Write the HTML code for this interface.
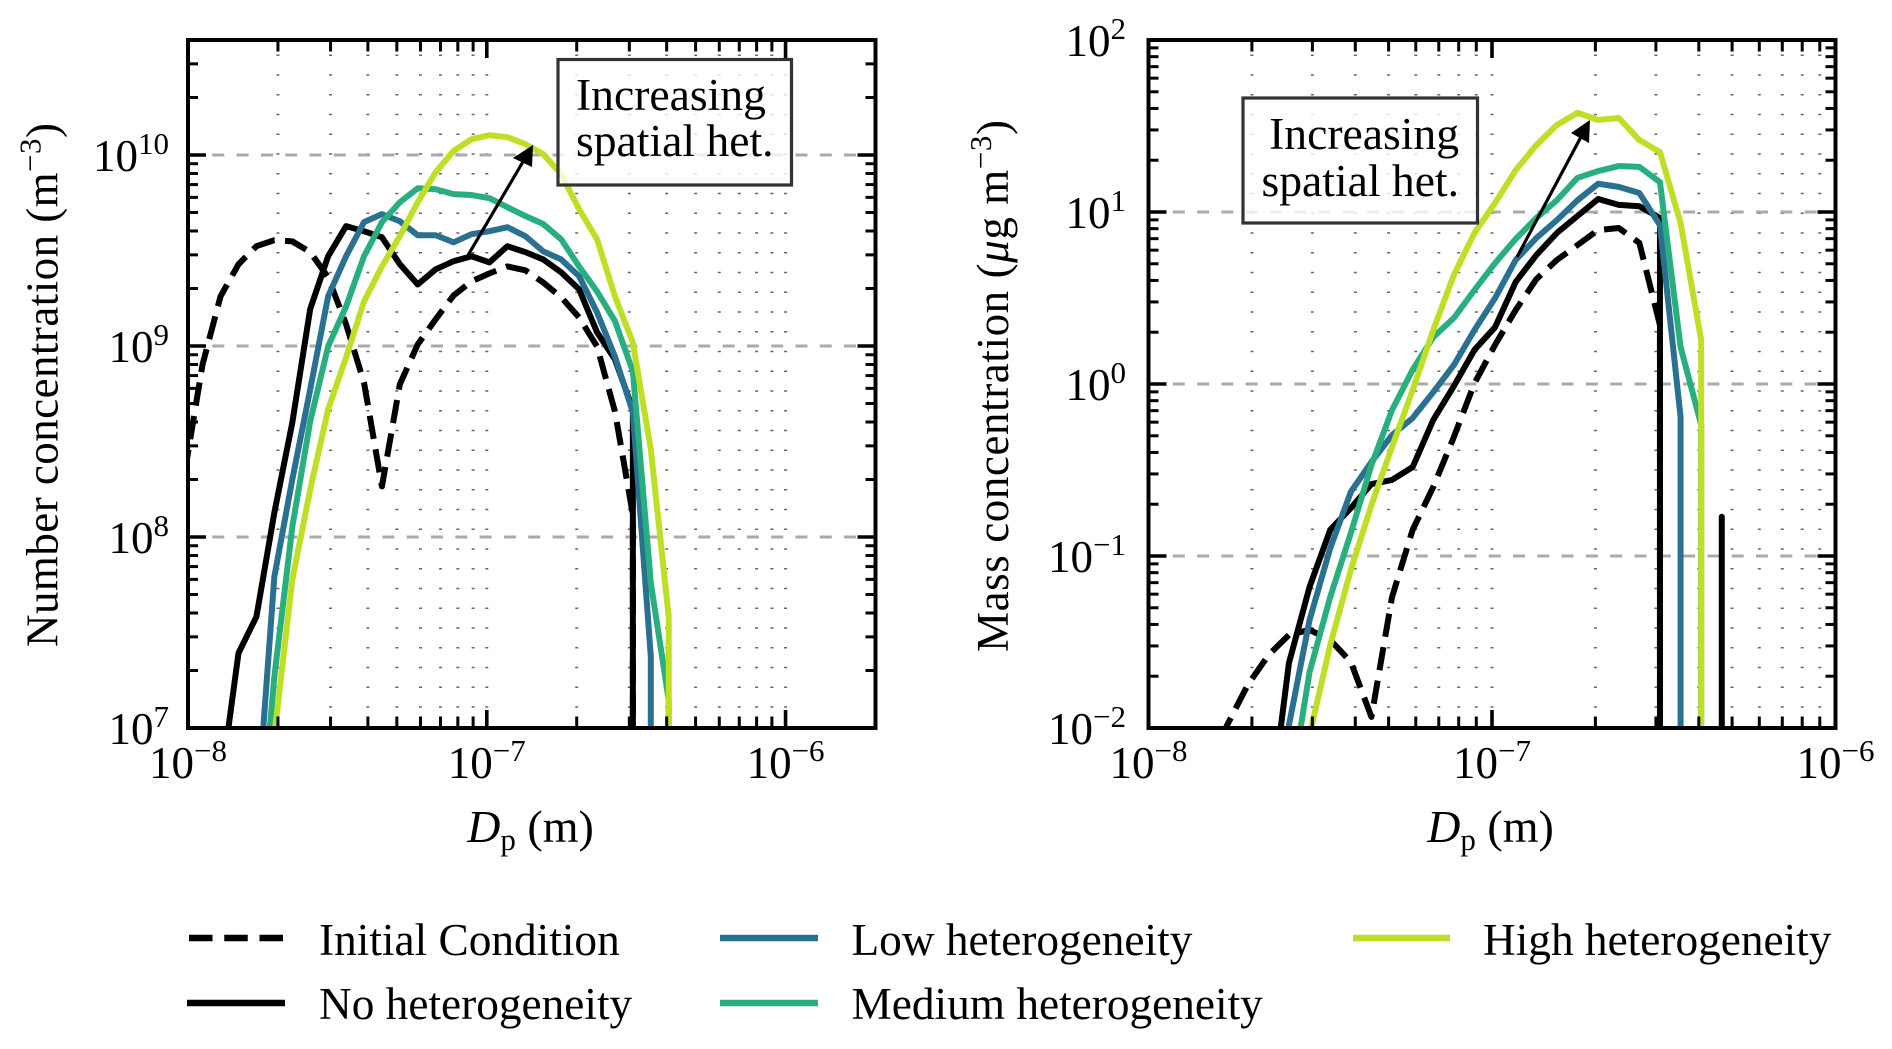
<!DOCTYPE html>
<html lang="en">
<head>
<meta charset="utf-8">
<title>Number and mass concentration size distributions</title>
<style>
  html, body { margin: 0; padding: 0; background: #fff; overflow: hidden; width: 1892px; height: 1049px; }
  svg { display: block; }
  text { font-family: "Liberation Serif", "DejaVu Serif", serif; fill: #000; }
</style>
</head>
<body>
<svg id="figure" xmlns="http://www.w3.org/2000/svg" width="1892" height="1049" viewBox="0 0 1892 1049">
  <rect x="0" y="0" width="1892" height="1049" fill="#fff"/>
  <g id="panel-number"></g>
  <g id="panel-mass"></g>

  <text x="530.5" y="842" font-size="46" text-anchor="middle"><tspan font-style="italic">D</tspan><tspan font-size="31" dy="8">p</tspan><tspan dy="-8"> (m)</tspan></text>
  <text x="1490.5" y="842" font-size="46" text-anchor="middle"><tspan font-style="italic">D</tspan><tspan font-size="31" dy="8">p</tspan><tspan dy="-8"> (m)</tspan></text>

  <text transform="translate(57.5 385) rotate(-90)" font-size="45" text-anchor="middle" textLength="524" lengthAdjust="spacing">Number concentration (m<tspan font-size="31" dy="-17">−3</tspan><tspan dy="17">)</tspan></text>
  <text transform="translate(1008 386) rotate(-90)" font-size="45" text-anchor="middle" textLength="532" lengthAdjust="spacing">Mass concentration (<tspan font-style="italic">μ</tspan>g m<tspan font-size="31" dy="-17">−3</tspan><tspan dy="17">)</tspan></text>

  <g>
    <line x1="189" y1="938" x2="283" y2="938" stroke="#000" stroke-width="6.5" stroke-dasharray="23.5 11.75"/>
    <text x="319" y="955" font-size="45.3">Initial Condition</text>
    <line x1="187" y1="1003" x2="285" y2="1003" stroke="#000" stroke-width="6.5"/>
    <text x="319" y="1019" font-size="45.3">No heterogeneity</text>
    <line x1="720" y1="938" x2="818" y2="938" stroke="#2a7090" stroke-width="6.5"/>
    <text x="851.5" y="955" font-size="45.3">Low heterogeneity</text>
    <line x1="720" y1="1003" x2="818" y2="1003" stroke="#29af7f" stroke-width="6.5"/>
    <text x="851.5" y="1019" font-size="45.3">Medium heterogeneity</text>
    <line x1="1353" y1="938" x2="1450" y2="938" stroke="#bddf26" stroke-width="6.5"/>
    <text x="1483" y="955" font-size="45.3">High heterogeneity</text>
  </g>
</svg>

<script>
// Particle diameter bins (nm)
const diameterNm = [9.75, 11.19, 12.85, 14.76, 16.94, 19.45, 22.34, 25.64, 29.44, 33.81, 38.82, 44.57, 51.17, 58.75, 67.45, 77.45, 88.92, 102.1, 117.2, 134.6, 154.5, 177.4, 203.7, 233.9, 268.5, 308.3, 354, 406.4, 466.6, 535.8];

// Number concentration (m^-3) per diameter bin; 0 means an empty bin
const numberInitial = [2.17e8, 8.02e8, 1.82e9, 2.68e9, 3.33e9, 3.58e9, 3.53e9, 3.10e9, 2.29e9, 1.30e9, 6.44e8, 1.84e8, 6.30e8, 1.02e9, 1.38e9, 1.84e9, 2.18e9, 2.40e9, 2.61e9, 2.49e9, 2.15e9, 1.80e9, 1.41e9, 9.95e8, 4.54e8, 1.31e8, 0, 0, 0, 0];
const numberNoHet = [0, 0, 4.97e6, 2.47e7, 3.82e7, 1.34e8, 3.97e8, 1.56e9, 2.95e9, 4.24e9, 3.99e9, 3.71e9, 2.68e9, 2.10e9, 2.52e9, 2.78e9, 2.95e9, 2.74e9, 3.33e9, 3.10e9, 2.84e9, 2.43e9, 1.98e9, 1.18e9, 8.51e8, 4.66e8, 0, 0, 0, 0];
const numberLowHet = [0, 0, 0, 0, 3.21e6, 6.19e7, 2.00e8, 5.92e8, 1.82e9, 2.95e9, 4.45e9, 4.90e9, 4.50e9, 3.80e9, 3.80e9, 3.49e9, 3.85e9, 3.99e9, 4.19e9, 3.76e9, 3.13e9, 2.84e9, 2.32e9, 1.50e9, 8.81e8, 4.49e8, 2.36e7, 0, 0, 0];
const numberMediumHet = [0, 0, 0, 0, 1.60e6, 1.85e7, 1.13e8, 4.03e8, 9.95e8, 1.61e9, 2.95e9, 4.45e9, 5.66e9, 6.70e9, 6.62e9, 6.24e9, 6.17e9, 5.94e9, 5.33e9, 4.79e9, 4.35e9, 3.62e9, 2.61e9, 1.93e9, 1.35e9, 7.36e8, 5.75e7, 1.40e7, 0, 0];
const numberHighHet = [0, 0, 0, 0, 6.85e5, 9.18e6, 5.97e7, 1.77e8, 4.66e8, 8.71e8, 1.71e9, 2.61e9, 3.76e9, 5.66e9, 8.13e9, 1.05e10, 1.21e10, 1.27e10, 1.24e10, 1.14e10, 1.01e10, 7.94e9, 5.20e9, 3.62e9, 1.82e9, 1.04e9, 2.87e8, 3.82e7, 0, 0];

// Mass concentration (ug m^-3) per diameter bin; 0 means an empty bin
const massInitial = [0, 0, 0, 5.70e-3, 0.0104, 0.0178, 0.0265, 0.0348, 0.0372, 0.0325, 0.0242, 0.0116, 0.0578, 0.142, 0.252, 0.492, 1.01, 1.69, 2.69, 4.07, 5.26, 6.43, 7.85, 8.07, 6.61, 2.20, 0, 0, 0, 0];
const massNoHet = [0, 0, 0, 0, 0, 0, 2.73e-3, 0.0239, 0.0661, 0.142, 0.190, 0.262, 0.277, 0.329, 0.618, 0.973, 1.58, 2.14, 3.92, 5.62, 7.55, 9.48, 11.9, 11.0, 10.8, 9.23, 0, 0, 0.169, 0];
const massLowHet = [0, 0, 0, 0, 0, 0, 1.71e-3, 0.0104, 0.0425, 0.111, 0.236, 0.352, 0.505, 0.634, 0.897, 1.29, 2.06, 3.16, 5.26, 7.06, 8.97, 11.7, 14.6, 14.0, 12.9, 8.39, 0.643, 0, 0, 0];
const massMediumHet = [0, 0, 0, 0, 0, 0, 0, 3.81e-3, 0.0212, 0.0578, 0.136, 0.338, 0.706, 1.21, 1.87, 2.42, 3.52, 5.05, 6.97, 9.23, 11.7, 15.8, 17.3, 18.5, 18.3, 14.9, 1.64, 0.578, 0, 0];
const massHighHet = [0, 0, 0, 0, 0, 0, 0, 2.73e-3, 9.10e-3, 0.0304, 0.0830, 0.198, 0.431, 0.923, 2.06, 4.31, 7.55, 11.3, 17.5, 24.5, 32.1, 37.7, 34.3, 35.2, 26.2, 22.3, 8.63, 1.80, 0, 0];

// Tick exponents
const xTickExponents = [-8, -7, -6];
const numberYTickExponents = [7, 8, 9, 10];
const massYTickExponents = [-2, -1, 0, 1, 2];

const SVG_NS = 'http://www.w3.org/2000/svg';

function mk(tag, parent, attrs) {
  const el = document.createElementNS(SVG_NS, tag);
  for (const k in attrs) el.setAttribute(k, attrs[k]);
  parent.appendChild(el);
  return el;
}

function expLabel(exp) {
  return String(exp).replace('-', '\u2212');
}

function drawPanel(cfg) {
  const g = document.getElementById(cfg.id);
  const L = cfg.left, R = cfg.right, T = cfg.top, B = cfg.bottom;

  // Axis functions. Diameters arrive in nm and are placed on a log10 metre axis.
  const lx0 = Math.log10(cfg.xMin), lx1 = Math.log10(cfg.xMax);
  const ly0 = Math.log10(cfg.yMin), ly1 = Math.log10(cfg.yMax);
  const xScale = function (nm) {
    return L + (Math.log10(nm * 1e-9) - lx0) / (lx1 - lx0) * (R - L);
  };
  const yScale = function (v) {
    return B - (Math.log10(v) - ly0) / (ly1 - ly0) * (B - T);
  };
  const xPos = function (logMetres) {
    return L + (logMetres - lx0) / (lx1 - lx0) * (R - L);
  };
  const yPos = function (logValue) {
    return B - (logValue - ly0) / (ly1 - ly0) * (B - T);
  };

  // Dotted vertical grid at every decade subdivision
  for (let e = Math.floor(lx0); e < Math.ceil(lx1); e++) {
    for (let m = 1; m <= 10; m++) {
      const lg = e + Math.log10(m);
      if (m === 1 || lg > lx1 - 1e-6) continue;
      const px = xPos(lg);
      if (px > R - 4 || e >= -6) continue;
      const dotLine = mk('line', g, { x1: px, y1: B - 0.5, x2: px, y2: T, stroke: '#666', 'stroke-width': 3, 'stroke-dasharray': '1.5 18.25' });
      
      
    }
  }

  // Dashed horizontal grid at the major decades
  cfg.yTicks.forEach(function (exp) {
    if (exp === ly0 || exp === ly1) return;
    const py = yPos(exp);
    const gridLine = mk('line', g, { x1: L, y1: py, x2: R, y2: py, stroke: '#aaa', 'stroke-width': 3, 'stroke-dasharray': '12 12.3' });
    
    
  });

  // Series. Runs of non-empty bins are drawn; an empty bin drops straight to the axis.
  const clipId = cfg.id + '-clip';
  const defs = mk('defs', g, {});
  const clip = mk('clipPath', defs, { id: clipId });
  mk('rect', clip, { x: L, y: T, width: R - L, height: B - T });
  const seriesGroup = mk('g', g, { 'clip-path': 'url(#' + clipId + ')' });
  
  
  cfg.series.forEach(function (s) {
    let d = '';
    let inRun = false;
    diameterNm.forEach(function (dp, i) {
      const v = s.values[i];
      const px = xScale(dp).toFixed(2);
      if (v > 0) {
        const py = yScale(v).toFixed(2);
        if (!inRun) {
          const hasEmptyBefore = i > 0 && yScale(v) < B;
          d += hasEmptyBefore ? 'M' + px + ' ' + (B + 8) + 'L' + px + ' ' + py : 'M' + px + ' ' + py;
          inRun = true;
        } else {
          d += 'L' + px + ' ' + py;
        }
      } else if (inRun) {
        d += 'L' + xScale(diameterNm[i - 1]).toFixed(2) + ' ' + (B + 8);
        inRun = false;
      }
    });
    const attrs = { d: d, fill: 'none', stroke: s.color, 'stroke-width': 6, 'stroke-linejoin': 'round' };
    if (s.dashed) attrs['stroke-dasharray'] = '23.5 10.5';
    const line = mk('path', seriesGroup, attrs);
    
    
  });

  // Annotation arrow and text box
  const arrowLine = mk('line', g, { x1: cfg.arrow.x1, y1: cfg.arrow.y1, x2: cfg.arrow.x2, y2: cfg.arrow.y2, stroke: '#000', 'stroke-width': 3.2 });
  
  
  const arrowHead = mk('polygon', g, { points: cfg.arrow.head, fill: '#000' });
  
  

  const box = mk('rect', g, { x: cfg.box.x, y: cfg.box.y, width: cfg.box.w, height: cfg.box.h, fill: 'rgba(255,255,255,0.8)', stroke: '#333', 'stroke-width': 3.2 });
  
  
  const line1 = mk('text', g, { x: cfg.box.tx, y: cfg.box.y1, 'font-size': 45.6, 'text-anchor': cfg.box.anchor });
  line1.textContent = 'Increasing';
  
  
  const line2 = mk('text', g, { x: cfg.box.tx, y: cfg.box.y2, 'font-size': 45.6, 'text-anchor': cfg.box.anchor });
  line2.textContent = 'spatial het.';
  
  

  // X ticks (bottom and top, inward)
  for (let e = Math.floor(lx0); e <= Math.ceil(lx1); e++) {
    for (let m = 1; m <= 9; m++) {
      const lg = e + Math.log10(m);
      if (lg < lx0 - 1e-6 || lg > lx1 + 1e-6) continue;
      const px = xPos(lg);
      const len = m === 1 ? 18 : 11.5;
      const w = m === 1 ? 3.6 : 3;
      const tickB = mk('line', g, { x1: px, y1: B, x2: px, y2: B - len, stroke: '#000', 'stroke-width': w });
      
      
      const tickT = mk('line', g, { x1: px, y1: T, x2: px, y2: T + len, stroke: '#000', 'stroke-width': w });
      
      
    }
  }

  // Y ticks (left and right, inward)
  for (let e = Math.floor(ly0); e <= Math.ceil(ly1); e++) {
    for (let m = 1; m <= 9; m++) {
      const lg = e + Math.log10(m);
      if (lg < ly0 - 1e-6 || lg > ly1 + 1e-6) continue;
      const py = yPos(lg);
      const len = m === 1 ? 18 : 10;
      const w = m === 1 ? 3.6 : 3;
      const tickL = mk('line', g, { x1: L, y1: py, x2: L + len, y2: py, stroke: '#000', 'stroke-width': w });
      
      
      const tickR = mk('line', g, { x1: R, y1: py, x2: R - len, y2: py, stroke: '#000', 'stroke-width': w });
      
      
    }
  }

  // Axes frame
  const frame = mk('rect', g, { x: L, y: T, width: R - L, height: B - T, fill: 'none', stroke: '#000', 'stroke-width': 4 });
  
  

  // X tick labels
  xTickExponents.forEach(function (exp) {
    const t = mk('text', g, { x: xPos(exp), y: B + 50, 'font-size': 45, 'text-anchor': 'middle' });
    t.textContent = '10';
    
    
    const sup = mk('tspan', t, { 'font-size': 31, dy: -17 });
    sup.textContent = expLabel(exp);
  });

  // Y tick labels
  cfg.yTicks.forEach(function (exp) {
    const t = mk('text', g, { x: cfg.yLabelX, y: yPos(exp) + 16, 'font-size': 45, 'text-anchor': 'end' });
    t.textContent = '10';
    
    
    const sup = mk('tspan', t, { 'font-size': 31, dy: -17 });
    sup.textContent = expLabel(exp);
  });
}

drawPanel({
  id: 'panel-number',
  left: 188, right: 875.5, top: 40, bottom: 728,
  xMin: 1e-8, xMax: 2e-6, yMin: 1e7, yMax: 4e10,
  yTicks: numberYTickExponents,
  yLabelX: 169,
  series: [
    { name: 'initial-condition-line', values: numberInitial, color: '#000', dashed: true },
    { name: 'no-heterogeneity-line', values: numberNoHet, color: '#000' },
    { name: 'low-heterogeneity-line', values: numberLowHet, color: '#2a7090' },
    { name: 'medium-heterogeneity-line', values: numberMediumHet, color: '#29af7f' },
    { name: 'high-heterogeneity-line', values: numberHighHet, color: '#bddf26' }
  ],
  arrow: { x1: 467, y1: 257, x2: 524, y2: 160, head: '533,145 513,158 532,167' },
  box: { x: 558, y: 59.5, w: 233.5, h: 125.5, tx: 576, anchor: 'start', y1: 110, y2: 156 }
});

drawPanel({
  id: 'panel-mass',
  left: 1148.5, right: 1835.5, top: 40, bottom: 728,
  xMin: 1e-8, xMax: 1e-6, yMin: 0.01, yMax: 100,
  yTicks: massYTickExponents,
  yLabelX: 1126,
  series: [
    { name: 'initial-condition-line', values: massInitial, color: '#000', dashed: true },
    { name: 'no-heterogeneity-line', values: massNoHet, color: '#000' },
    { name: 'low-heterogeneity-line', values: massLowHet, color: '#2a7090' },
    { name: 'medium-heterogeneity-line', values: massMediumHet, color: '#29af7f' },
    { name: 'high-heterogeneity-line', values: massHighHet, color: '#bddf26' }
  ],
  arrow: { x1: 1517, y1: 257, x2: 1582, y2: 135, head: '1590,120 1571,133 1589,143' },
  box: { x: 1243, y: 98, w: 234.5, h: 125, tx: 1459, anchor: 'end', y1: 149, y2: 196 }
});
</script>
</body>
</html>
